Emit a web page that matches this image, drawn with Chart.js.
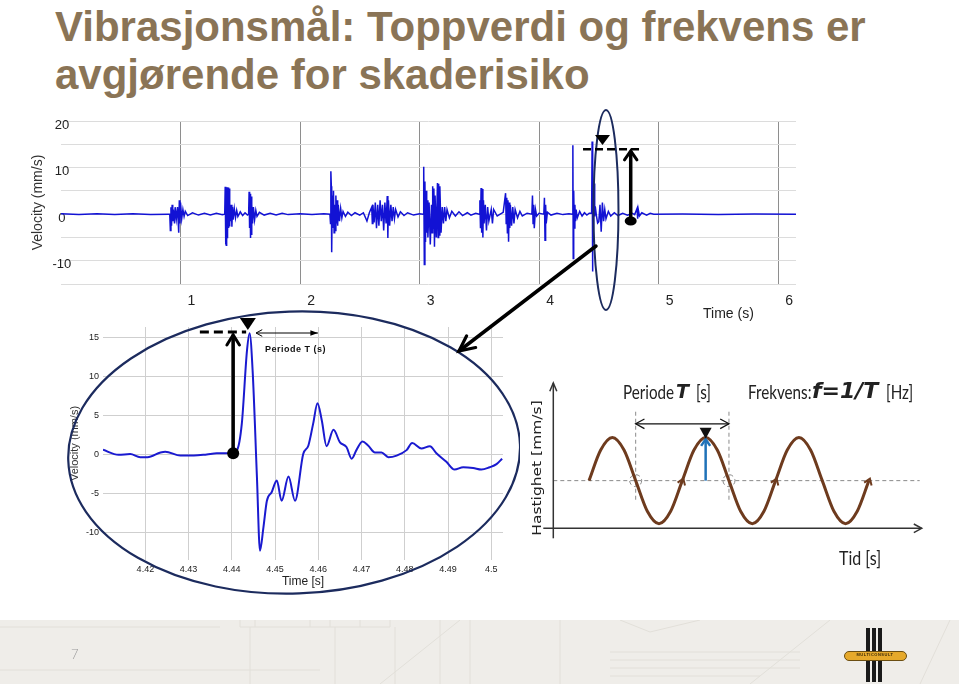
<!DOCTYPE html>
<html><head><meta charset="utf-8">
<script src="https://cdn.jsdelivr.net/npm/chart.js@4.4.1/dist/chart.umd.min.js"></script>
<style>
html,body{margin:0;padding:0;background:#fff;}
body{width:959px;height:684px;position:relative;overflow:hidden;font-family:"Liberation Sans",Arial,sans-serif;}
.a{position:absolute;white-space:nowrap;}
canvas{position:absolute;}
#title{left:55px;top:3px;font-size:42px;line-height:48px;font-weight:bold;color:#8a7456;}
#footer{left:0;top:620px;width:959px;height:64px;background:#efede9;}
.cal{font-family:Lato,"Open Sans",sans-serif;display:inline-block;transform-origin:left center;}
.bi{font-family:"DejaVu Sans",sans-serif;font-weight:bold;font-style:italic;}
</style></head><body>
<div id="footer" class="a"></div>
<canvas id="foot" width="959" height="64" style="left:0;top:620px"></canvas>
<div id="title" class="a">Vibrasjonsmål: Toppverdi og frekvens er<br>avgjørende for skaderisiko</div>

<canvas id="c1" width="830" height="220" style="left:0;top:105px"></canvas>
<div class="a" style="left:703px;top:305px;font-size:14px;color:#222;">Time (s)</div>

<canvas id="c2" width="460" height="300" style="left:60px;top:300px"></canvas>
<div class="a" style="left:265px;top:344px;font-size:9px;font-weight:bold;letter-spacing:0.5px;color:#111;">Periode T (s)</div>

<canvas id="c3" width="420" height="200" style="left:530px;top:370px"></canvas>
<div class="a" style="left:623px;top:379px;font-size:20px;color:#222;line-height:24px;"><span class="cal" style="transform:scaleX(0.76)">Periode</span><span class="bi" style="position:absolute;left:53px;top:0;font-size:19px;">T</span><span class="cal" style="position:absolute;left:73px;transform:scaleX(0.76)">[s]</span></div>
<div class="a" style="left:748px;top:379px;font-size:20px;color:#222;line-height:24px;"><span class="cal" style="transform:scaleX(0.76)">Frekvens:</span><span class="bi" style="position:absolute;left:64px;top:0px;font-size:22px;">f=1/T</span><span class="cal" style="position:absolute;left:138px;transform:scaleX(0.76)">[Hz]</span></div>
<div class="a" style="left:839px;top:545px;font-size:20px;color:#222;line-height:24px;"><span class="cal" style="transform:scaleX(0.8)">Tid [s]</span></div>
<div class="a" style="left:457px;top:458px;width:160px;text-align:center;font-family:'DejaVu Sans',sans-serif;font-size:15.5px;line-height:20px;color:#222;transform:scaleX(0.8) rotate(-90deg);transform-origin:80px 10px;">Hastighet [mm/s]</div>

<div class="a" style="left:71px;top:646px;font-size:13px;color:#9a9a9a;font-family:Lato,sans-serif;font-weight:300;">7</div>
<div class="a" style="left:866px;top:628px;width:4px;height:54px;background:#1a1a1a"></div>
<div class="a" style="left:872px;top:628px;width:4px;height:54px;background:#1a1a1a"></div>
<div class="a" style="left:878px;top:628px;width:4px;height:54px;background:#1a1a1a"></div>
<div class="a" style="left:844px;top:651px;width:61px;height:8px;background:#e6a92b;border:1px solid #6b4e12;border-radius:5px;"></div>
<div class="a" style="left:846px;top:652px;width:116px;height:10px;font-size:8px;line-height:10px;font-weight:bold;color:#3a2a08;letter-spacing:1px;text-align:center;transform:scale(0.5);transform-origin:0 0;">MULTICONSULT</div>

<canvas id="ov" width="959" height="684" style="left:0;top:0;pointer-events:none"></canvas>

<script>
// ---------- DATA ----------
// Top chart: velocity (mm/s) vs time (s), samples [time, velocity]
const topSamples = [
 [0,0.1],[0.15,-0.1],[0.3,0.1],[0.45,-0.1],[0.6,0.1],[0.75,-0.1],[0.9,0],
 [0.91,0],[0.915,-3.5],[0.92,1.5],[0.925,-2.5],[0.93,2],[0.935,-1.5],[0.94,1],[0.95,-2],[0.955,1.5],[0.965,-1],[0.975,1.5],[0.985,-4],[0.99,3],[0.995,-2],[1.0,2.5],[1.01,-1],[1.02,1],[1.03,-0.5],[1.04,0.6],[1.06,-0.3],[1.1,0.3],[1.15,-0.2],[1.2,0.2],[1.25,-0.2],[1.3,0.2],[1.35,-0.1],
 [1.37,0],[1.374,5.9],[1.377,-6.5],[1.38,5.9],[1.383,-6.7],[1.386,5.8],[1.389,-5],[1.392,5.8],[1.395,-4],[1.398,5.7],[1.401,-3],[1.404,5.6],[1.407,-2.5],[1.41,5.5],[1.413,-2],[1.416,2],[1.42,-1.5],[1.425,2],[1.43,-2.7],[1.435,1.5],[1.44,-1.2],[1.45,1.2],[1.46,-0.8],[1.47,0.8],[1.48,-0.5],[1.5,0.5],[1.52,-0.3],[1.54,0.3],[1.56,-0.2],
 [1.57,0],[1.574,4.8],[1.578,-3],[1.582,4.4],[1.586,-5.1],[1.59,3.8],[1.594,-4.5],[1.598,2],[1.603,-2],[1.61,1.5],[1.62,-1.2],[1.63,0.8],[1.64,-0.5],[1.66,0.4],[1.7,-0.2],[1.75,0.2],[1.8,-0.2],[1.85,0.2],[1.9,-0.1],[2.0,0.1],[2.1,-0.1],[2.2,0.1],
 [2.25,0],[2.255,-2],[2.258,9.2],[2.262,6],[2.265,-8.2],[2.27,4],[2.275,-3],[2.28,5],[2.285,-4],[2.29,2],[2.295,-3.5],[2.3,4],[2.305,-2],[2.31,3],[2.315,-2.5],[2.32,2],[2.33,-1.5],[2.34,1.2],[2.35,-0.8],[2.36,0.6],[2.38,-0.5],[2.4,0.4],[2.43,-0.3],[2.46,0.3],[2.5,-0.2],[2.53,0.3],[2.56,-1.5],[2.58,0.3],
 [2.6,1.5],[2.605,-2],[2.61,2],[2.62,-1.8],[2.63,2.5],[2.64,-3],[2.65,2],[2.66,-2.5],[2.67,3],[2.68,-1.5],[2.69,2],[2.7,-3.5],[2.71,2.5],[2.72,-2],[2.73,3.9],[2.735,-5.1],[2.74,3],[2.75,-2.5],[2.76,2],[2.77,-1.5],[2.78,1.5],[2.79,-1],[2.8,1],[2.82,-0.6],[2.84,0.5],[2.87,-0.3],[2.9,0.3],[2.95,-0.2],[3.0,0.1],
 [3.03,0],[3.035,10.2],[3.04,-10.8],[3.045,7],[3.05,-6],[3.055,5],[3.06,-4],[3.065,3],[3.07,-5],[3.08,2.5],[3.09,-6.5],[3.1,2],[3.105,-4],[3.11,6],[3.115,-3],[3.12,5.5],[3.125,-7],[3.13,4],[3.14,-5],[3.15,6.7],[3.155,-5],[3.16,6.5],[3.165,-4.5],[3.17,6],[3.18,-4],[3.19,1.5],[3.2,-2],[3.21,1.5],[3.22,-1.5],[3.23,1],[3.25,-0.8],[3.27,0.6],[3.3,-0.4],[3.33,0.5],[3.36,-0.3],[3.4,0.3],[3.43,-0.2],[3.47,0.2],
 [3.5,0],[3.505,3],[3.51,-3],[3.515,5.6],[3.52,-4],[3.525,5.4],[3.53,-5],[3.535,3],[3.54,-2],[3.55,2],[3.56,-3.5],[3.57,1.5],[3.58,-1.5],[3.6,1],[3.61,-2],[3.62,1],[3.65,-0.4],[3.7,0.4],[3.72,4.5],[3.725,-2],[3.73,3.5],[3.735,-4],[3.74,3],[3.745,-5.9],[3.75,2.5],[3.755,-3],[3.76,2],[3.77,-2.5],[3.78,1.5],[3.79,-2],[3.8,1],[3.82,-0.8],[3.84,0.6],[3.86,-0.4],[3.9,0.2],
 [3.94,0],[3.945,4],[3.95,-2],[3.955,2],[3.96,-3],[3.97,1],[3.98,-0.4],[4.0,0.2],[4.04,0],[4.045,3.5],[4.05,-5.6],[4.055,2],[4.06,-2],[4.07,0.4],[4.1,-0.2],[4.15,0.2],[4.2,-0.1],[4.25,0.1],
 [4.28,0],[4.283,14.8],[4.286,-9.5],[4.29,5],[4.295,-3],[4.3,2],[4.305,-1.5],[4.31,1],[4.32,-0.8],[4.34,0.6],[4.36,-0.4],[4.38,0.3],[4.4,-0.2],[4.42,0.2],
 [4.44,0.2],[4.4441,15.6],[4.4465,-12.3],[4.4492,-4.8],[4.4504,-3.3],[4.4515,-5.9],[4.4531,-2.8],[4.4546,-5.9],[4.4598,6.6],[4.4635,3.2],[4.4677,-0.5],[4.4702,1.7],[4.48,-0.3],[4.49,-1.9],[4.5,-1.6],[4.51,2],[4.52,-3.8],[4.53,2.5],[4.54,-1.5],[4.55,1],[4.56,-1],[4.58,0.6],[4.6,-0.4],[4.63,0.3],[4.66,-0.3],[4.7,0.2],[4.74,-0.2],[4.78,0.2],[4.8,-0.1],[4.82,1.2],[4.825,-1],[4.83,1],[4.84,-0.4],[4.86,0.3],[4.9,-0.2],[4.93,0.2],[4.96,0],[5.2,0.05],[5.5,-0.05],[5.8,0.05],[6.15,0]
];
const topYTicks = [-10, 0, 10, 20];
const topXTicks = [1, 2, 3, 4, 5, 6];

// Zoomed chart: velocity (mm/s) vs time (s) around the peak
const zoomSamples = [
 [4.4102,0.64],[4.4138,0],[4.4165,0.1],[4.4188,-0.3],[4.4205,-0.3],[4.4235,0.3],[4.4246,0.4],[4.4281,-0.1],[4.4312,-0.1],[4.4342,0.05],[4.4365,0.2],[4.44,0.2],[4.4412,0.6],[4.4423,4],[4.4435,13.4],[4.4441,15.6],[4.4448,10.8],[4.4458,-2.9],[4.4465,-12.3],[4.4473,-9.3],[4.4481,-5.9],[4.4492,-4.8],[4.4504,-3.3],[4.4515,-5.9],[4.4531,-2.8],[4.4546,-5.9],[4.4565,0.1],[4.4577,1.2],[4.4588,4],[4.4598,6.6],[4.4608,4.4],[4.4619,1.1],[4.4635,3.2],[4.465,1.6],[4.4665,1],[4.4677,-0.5],[4.4688,0.6],[4.4702,1.7],[4.4715,1.2],[4.4731,0.3],[4.4746,0.3],[4.4762,-0.3],[4.4781,-0.1],[4.4804,0.6],[4.4817,1.5],[4.4838,0.8],[4.4858,1.1],[4.4873,0.2],[4.4896,-0.9],[4.4915,-1.9],[4.4935,-1.6],[4.4958,-1.7],[4.4977,-1.9],[4.4996,-1.6],[4.5012,-1.2],[4.5025,-0.5]
];
const zoomXTicks = [4.42, 4.43, 4.44, 4.45, 4.46, 4.47, 4.48, 4.49, 4.5];
const zoomYTicks = [-10, -5, 0, 5, 10, 15];

// Sine illustration: time in periods, velocity in amplitudes
const sineTime  = [0,0.125,0.25,0.375,0.5,0.625,0.75,0.875,1,1.125,1.25,1.375,1.5,1.625,1.75,1.875,2,2.125,2.25,2.375,2.5,2.625,2.75,2.875,3];
const sineLevel = [0,0.71,1,0.71,0,-0.71,-1,-0.71,0,0.71,1,0.71,0,-0.71,-1,-0.71,0,0.71,1,0.71,0,-0.71,-1,-0.71,0];

// ---------- helpers ----------
Chart.defaults.font.family = "'Liberation Sans', Arial, sans-serif";
function head(ctx, x1, y1, x2, y2, len, ang, fill){
  const a = Math.atan2(y2-y1, x2-x1);
  ctx.beginPath();
  ctx.moveTo(x2 - len*Math.cos(a-ang), y2 - len*Math.sin(a-ang));
  ctx.lineTo(x2, y2);
  ctx.lineTo(x2 - len*Math.cos(a+ang), y2 - len*Math.sin(a+ang));
  if (fill) { ctx.closePath(); ctx.fill(); } else ctx.stroke();
}
function seg(ctx, x1, y1, x2, y2){ ctx.beginPath(); ctx.moveTo(x1,y1); ctx.lineTo(x2,y2); ctx.stroke(); }
function tri(ctx, cx, top, apex, w){ ctx.beginPath(); ctx.moveTo(cx-w/2, top); ctx.lineTo(cx+w/2, top); ctx.lineTo(cx, apex); ctx.closePath(); ctx.fill(); }

// ---------- top chart ----------
const topAnno = {id:'topAnno', afterDatasetsDraw(ch){
  const {ctx, scales:{x, y}} = ch;
  ctx.save();
  ctx.strokeStyle = '#1c2b5e'; ctx.lineWidth = 2;
  ctx.beginPath(); ctx.ellipse(x.getPixelForValue(4.56), y.getPixelForValue(0.89), 12.5, 100, 0, 0, Math.PI*2); ctx.stroke();
  ctx.strokeStyle = '#000'; ctx.fillStyle = '#000';
  ctx.lineWidth = 2.5; ctx.setLineDash([8,4]);
  seg(ctx, x.getPixelForValue(4.368), y.getPixelForValue(13.92), x.getPixelForValue(4.845), y.getPixelForValue(13.92));
  ctx.setLineDash([]);
  tri(ctx, x.getPixelForValue(4.531), y.getPixelForValue(17.0), y.getPixelForValue(14.85), 15);
  const ax = x.getPixelForValue(4.767);
  ctx.lineWidth = 3.5;
  seg(ctx, ax, y.getPixelForValue(-1.47), ax, y.getPixelForValue(13.6));
  ctx.lineWidth = 3; ctx.lineCap = 'round';
  head(ctx, ax, y.getPixelForValue(0), ax, y.getPixelForValue(13.6), 11, 0.6, false);
  ctx.beginPath(); ctx.ellipse(ax, y.getPixelForValue(-1.47), 6, 4.5, 0, 0, Math.PI*2); ctx.fill();
  ctx.restore();
}};

new Chart(document.getElementById('c1'), {
  type:'line',
  data:{datasets:[{data: topSamples.map(p=>({x:p[0], y:p[1]})), borderColor:'#1212d4', borderWidth:1.5, pointRadius:0, tension:0}]},
  options:{
    responsive:false, animation:false, devicePixelRatio:1,
    layout:{padding:{left:0, top:16, right:34, bottom:0}},
    plugins:{legend:{display:false}, tooltip:{enabled:false}},
    scales:{
      x:{type:'linear', min:0, max:6.15, afterFit:s=>{s.height=41;},
        afterBuildTicks:s=>{s.ticks = [0].concat(topXTicks).map(v=>({value:v}));},
        grid:{color:c=>(c.tick && c.tick.value===0)?'rgba(0,0,0,0)':'#8e8e8e', drawTicks:false},
        border:{display:false},
        ticks:{padding:9, labelOffset:11, color:'#222', font:{size:14}, callback:v=>v===0?'':v}},
      y:{min:-15, max:20, afterFit:s=>{s.width=61;},
        grid:{color:'#dcdcdc', drawTicks:false}, border:{display:false},
        ticks:{stepSize:5, mirror:true, crossAlign:'center', padding:-8.5, labelOffset:4, color:'#222', font:{size:13}, callback:v=>topYTicks.includes(v)?v:''},
        title:{display:true, text:'Velocity (mm/s)', color:'#333', font:{size:14}, padding:{top:29.6, bottom:0}}}
    }
  },
  plugins:[topAnno]
});

// ---------- zoomed chart ----------
const zoomAnno = {id:'zoomAnno', afterDatasetsDraw(ch){
  const {ctx, scales:{x, y}} = ch;
  ctx.save();
  ctx.strokeStyle = '#1c2b5e'; ctx.lineWidth = 2.2;
  ctx.beginPath(); ctx.ellipse(x.getPixelForValue(4.4544), y.getPixelForValue(0.29), 226, 141, -0.035, 0, Math.PI*2); ctx.stroke();
  ctx.strokeStyle = '#000'; ctx.fillStyle = '#000';
  ctx.lineWidth = 3; ctx.setLineDash([9,5]);
  seg(ctx, x.getPixelForValue(4.4326), y.getPixelForValue(15.76), x.getPixelForValue(4.4433), y.getPixelForValue(15.76));
  ctx.setLineDash([]);
  const ax = x.getPixelForValue(4.4403);
  ctx.lineWidth = 3.5;
  seg(ctx, ax, y.getPixelForValue(0.2), ax, y.getPixelForValue(15.4));
  ctx.lineWidth = 3; ctx.lineCap = 'round';
  head(ctx, ax, y.getPixelForValue(0), ax, y.getPixelForValue(15.4), 12, 0.55, false);
  ctx.beginPath(); ctx.arc(ax, y.getPixelForValue(0.2), 6, 0, Math.PI*2); ctx.fill();
  tri(ctx, x.getPixelForValue(4.4437), y.getPixelForValue(17.56), y.getPixelForValue(16.0), 16);
  const py = y.getPixelForValue(15.63), p1 = x.getPixelForValue(4.4456), p2 = x.getPixelForValue(4.4599);
  ctx.lineWidth = 1; ctx.lineCap = 'butt';
  seg(ctx, p1, py, p2, py);
  head(ctx, p2, py, p1, py, 7, 0.5, false);
  head(ctx, p1, py, p2, py, 8, 0.35, true);
  ctx.restore();
}};

new Chart(document.getElementById('c2'), {
  type:'line',
  data:{datasets:[{data: zoomSamples.map(p=>({x:p[0], y:p[1]})), borderColor:'#1a1ad0', borderWidth:2, pointRadius:0, cubicInterpolationMode:'monotone'}]},
  options:{
    responsive:false, animation:false, devicePixelRatio:1,
    layout:{padding:{left:0, top:27, right:17, bottom:0}},
    plugins:{legend:{display:false}, tooltip:{enabled:false}},
    scales:{
      x:{type:'linear', min:4.4102, max:4.5027, afterFit:s=>{s.height=40;},
        afterBuildTicks:s=>{s.ticks = zoomXTicks.map(v=>({value:v}));},
        grid:{color:'#cfcfcf', drawTicks:false}, border:{display:false},
        ticks:{padding:4, color:'#222', font:{size:9}, callback:v=>String(+v.toFixed(2))},
        title:{display:true, text:'Time [s]', color:'#222', font:{size:12}, padding:{top:0, bottom:10.8}}},
      y:{min:-13.5, max:16.4, afterFit:s=>{s.width=43;},
        afterBuildTicks:s=>{s.ticks = zoomYTicks.map(v=>({value:v}));},
        grid:{color:'#cfcfcf', drawTicks:false}, border:{display:false},
        ticks:{padding:4, color:'#222', font:{size:9}},
        title:{display:true, text:'Velocity (mm/s)', color:'#333', font:{size:11}, padding:{top:8.4, bottom:0}}}
    }
  },
  plugins:[zoomAnno]
});

// ---------- sine illustration ----------
const sineAnno = {id:'sineAnno',
  beforeDatasetsDraw(ch){
    const {ctx, chartArea:a, scales:{x, y}} = ch;
    ctx.save();
    ctx.strokeStyle = '#8a8a8a'; ctx.lineWidth = 1; ctx.setLineDash([4,3]);
    const y0 = y.getPixelForValue(0);
    seg(ctx, a.left, y0, a.right-2, y0);
    [0.5, 1.5].forEach(t=>{
      const px = x.getPixelForValue(t);
      seg(ctx, px, y.getPixelForValue(1.6), px, y.getPixelForValue(-0.45));
      ctx.beginPath(); ctx.arc(px, y0, 6, 0, Math.PI*2); ctx.stroke();
    });
    ctx.setLineDash([]);
    ctx.strokeStyle = '#333'; ctx.lineWidth = 1.5;
    seg(ctx, a.left, a.bottom+10, a.left, a.top);
    head(ctx, a.left, a.bottom, a.left, a.top, 9, 0.4, false);
    seg(ctx, a.left-10, a.bottom, a.right, a.bottom);
    head(ctx, a.left, a.bottom, a.right, a.bottom, 9, 0.5, false);
    ctx.restore();
  },
  afterDatasetsDraw(ch){
    const {ctx, scales:{x, y}} = ch;
    ctx.save();
    const y0 = y.getPixelForValue(0);
    ctx.strokeStyle = '#111'; ctx.lineWidth = 1.3;
    const py = y.getPixelForValue(1.32), p1 = x.getPixelForValue(0.5), p2 = x.getPixelForValue(1.5);
    seg(ctx, p1, py, p2, py);
    head(ctx, p2, py, p1, py, 10, 0.5, false);
    head(ctx, p1, py, p2, py, 10, 0.5, false);
    const bx = x.getPixelForValue(1.25);
    ctx.strokeStyle = '#1f72b8'; ctx.lineWidth = 2.5;
    seg(ctx, bx, y0, bx, y.getPixelForValue(0.96));
    head(ctx, bx, y0, bx, y.getPixelForValue(0.96), 8, 0.6, false);
    ctx.fillStyle = '#111';
    tri(ctx, bx, y.getPixelForValue(1.225), y.getPixelForValue(0.97), 12);
    ctx.strokeStyle = '#6e3b1e'; ctx.lineWidth = 2;
    [1, 2, 3].forEach(t=>{
      const px = x.getPixelForValue(t);
      head(ctx, px-2, y0+6, px+1, y0-2, 7, 0.6, false);
    });
    ctx.restore();
  }
};

new Chart(document.getElementById('c3'), {
  type:'line',
  data:{labels:sineTime, datasets:[{data: sineTime.map((t,i)=>({x:t, y:sineLevel[i]})), borderColor:'#6e3b1e', borderWidth:3, pointRadius:0, cubicInterpolationMode:'monotone'}]},
  options:{
    responsive:false, animation:false, devicePixelRatio:1,
    layout:{padding:{left:23.3, top:13, right:28.3, bottom:41.7}},
    plugins:{legend:{display:false}, tooltip:{enabled:false}},
    scales:{
      x:{type:'linear', display:false, min:-0.383, max:3.566},
      y:{display:false, min:-1.107, max:2.267}
    }
  },
  plugins:[sineAnno]
});

// ---------- overlay: connection arrow ----------
(function(){
  const ctx = document.getElementById('ov').getContext('2d');
  ctx.strokeStyle = '#000'; ctx.lineWidth = 3.5; ctx.lineCap = 'round';
  seg(ctx, 596, 246, 459, 351);
  ctx.lineWidth = 3.2;
  head(ctx, 596, 246, 459, 351, 17, 0.45, false);
})();

// ---------- footer pattern ----------
(function(){
  const ctx = document.getElementById('foot').getContext('2d');
  ctx.strokeStyle = '#e2dfd9'; ctx.lineWidth = 1;
  const L = [[0,7,220,7],[240,0,240,7],[255,0,255,7],[310,0,310,7],[330,0,330,7],[360,0,360,7],[390,0,390,7],[240,7,390,7],
    [250,7,250,64],[335,7,335,64],[395,7,395,64],[440,0,440,64],[380,64,460,0],[470,0,470,64],[560,0,560,64],[620,0,650,12],[650,12,700,0],
    [610,32,800,32],[610,40,800,40],[610,48,800,48],[610,56,760,56],[750,64,830,0],[920,64,950,0],[0,50,320,50]];
  L.forEach(l=>seg(ctx, l[0], l[1], l[2], l[3]));
})();
</script>
</body></html>
